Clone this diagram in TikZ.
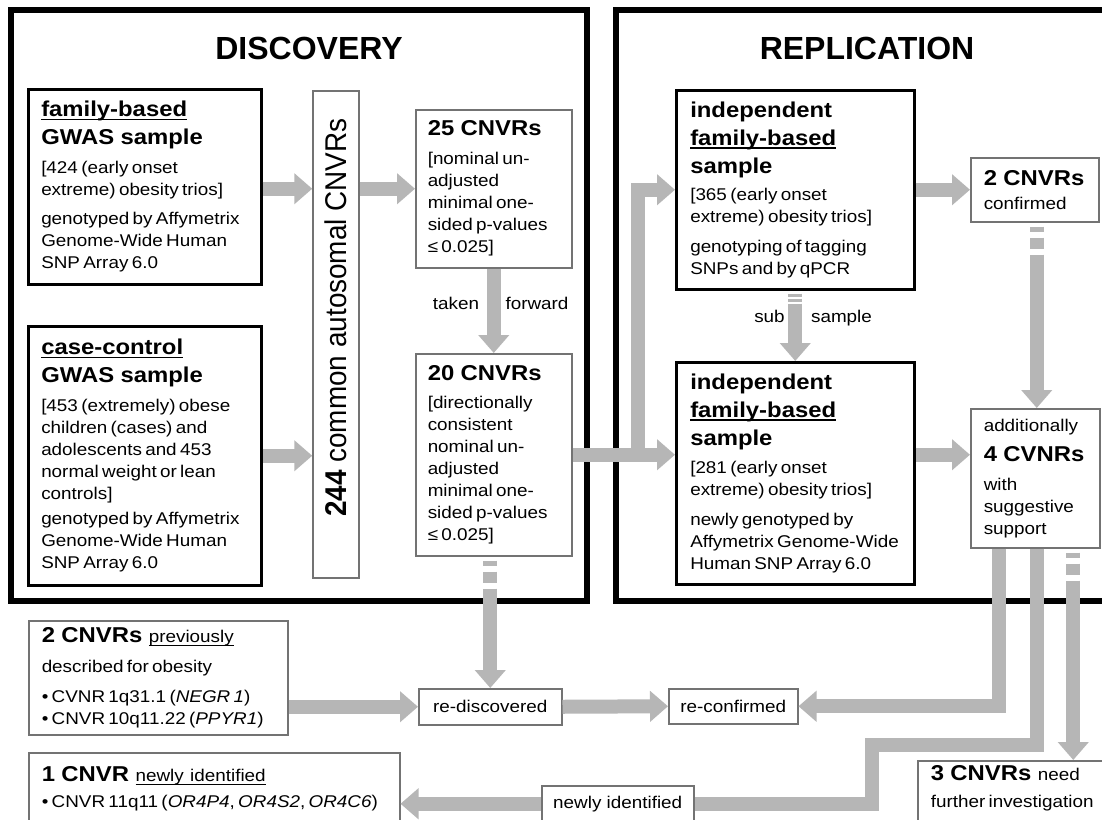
\documentclass[tikz,border=0pt]{standalone}
\usepackage{fontspec}
\setmainfont{Liberation Sans}
\newfontfamily\stf[FakeStretch=1.11]{Liberation Sans}
\newfontfamily\rotf[FakeStretch=0.93]{Liberation Sans}
\usetikzlibrary{arrows.meta}
\definecolor{agray}{RGB}{182,182,182}
\definecolor{bgray}{RGB}{115,115,115}
\newcommand\bdy{\stf\mdseries\fontsize{17}{22}\selectfont}
\newcommand\hdg{\stf\bfseries\fontsize{21.5}{28}\selectfont\spaceskip=0.3em plus 0.1em}
\newsavebox\ulbox
\newcommand\uln[1]{\leavevmode\sbox\ulbox{#1}\rlap{\rule[-3.5pt]{\wd\ulbox}{1.3pt}}\usebox\ulbox}
\tikzset{
  kbox/.style={draw=black, line width=2.5pt, fill=white, anchor=north west, inner xsep=13pt, inner ysep=0pt, align=left},
  gbox/.style={draw=bgray, line width=1.5pt, fill=white, anchor=north west, inner xsep=12pt, inner ysep=0pt, align=left},
  frame/.style={draw=black, line width=6pt},
  fat/.style={draw=agray, line width=14pt, -{Triangle[length=18pt,width=30pt]}},
  fatplain/.style={draw=agray, line width=14pt},
  dstart/.style={dash pattern=on 0pt off 4pt on 5pt off 6pt on 11pt off 6pt on 5000pt},
  dsmall/.style={dash pattern=on 0pt off 3pt on 3pt off 2pt on 3pt off 2pt on 5000pt},
  lbl/.style={font=\bdy, anchor=base, inner sep=0pt},
  ttl/.style={font=\bfseries\fontsize{32}{36}\selectfont, inner sep=0pt}
}
\begin{document}
\begin{tikzpicture}[x=1pt,y=-1pt]
\useasboundingbox (0,0) rectangle (1102,819);
\clip (0,0) rectangle (1102,819);
\fill[white] (0,0) rectangle (1102,819);

% frames
\draw[frame] (11,10) rectangle (587,601);
\draw[frame] (616,10) rectangle (1130,601);

% titles
\node[ttl] (tdisc) at (309,48.5) {DISCOVERY};
\node[ttl] (trep) at (867,48.5) {REPLICATION};

% discovery boxes
\node[kbox, minimum width=233pt, minimum height=195pt, text width=207pt] (fam) at (27,88)
 {{\hdg\uln{family-based}\\GWAS sample\par}\vspace{7pt}%
  {\bdy[424 (early onset\\extreme) obesity trios]\par}\vspace{7pt}%
  {\bdy genotyped by Affymetrix\\Genome-Wide Human\\SNP Array 6.0\par}};

\node[kbox, minimum width=233pt, minimum height=259pt, text width=207pt] (cas) at (27,325)
 {{\hdg\uln{case-control}\\GWAS sample\par}\vspace{7pt}%
  {\bdy[453 (extremely) obese\\children (cases) and\\adolescents and 453\\normal weight or lean\\controls]\par}\vspace{3pt}%
  {\bdy genotyped by Affymetrix\\Genome-Wide Human\\SNP Array 6.0\par}};

\node[draw=bgray, line width=1.5pt, fill=white, rotate=90, minimum width=487pt, minimum height=46pt, inner sep=0pt,
      font=\rotf\fontsize{30}{34}\selectfont] (b244) at (336,334.5)
 {\hspace*{34pt}\textbf{244} common autosomal CNVRs};

\node[gbox, minimum width=156pt, minimum height=158pt, text width=132pt] (b25) at (415,109)
 {{\hdg 25 CNVRs\par}\vspace{7pt}%
  {\bdy[nominal un-\\adjusted\\minimal one-\\sided p-values\\≤ 0.025]\par}};

\node[gbox, minimum width=156pt, minimum height=202pt, text width=132pt] (b20) at (415,353)
 {{\hdg 20 CNVRs\par}\vspace{6pt}%
  {\bdy[directionally\\consistent\\nominal un-\\adjusted\\minimal one-\\sided p-values\\≤ 0.025]\par}};

% replication boxes
\node[kbox, inner xsep=14pt, minimum width=238pt, minimum height=199pt, text width=210pt] (ind1) at (675,89)
 {{\hdg independent\\\uln{family-based}\\sample\par}\vspace{5pt}%
  {\bdy[365 (early onset\\extreme) obesity trios]\par}\vspace{8pt}%
  {\bdy genotyping of tagging\\SNPs and by qPCR\par}};

\node[kbox, inner xsep=14pt, minimum width=238pt, minimum height=222pt, text width=210pt] (ind2) at (675,361)
 {{\hdg independent\\\uln{family-based}\\sample\par}\vspace{6pt}%
  {\bdy[281 (early onset\\extreme) obesity trios]\par}\vspace{8pt}%
  {\bdy newly genotyped by\\\mbox{Affymetrix Genome-Wide}\\Human SNP Array 6.0\par}};

\node[gbox, inner xsep=13pt, minimum width=128pt, minimum height=64pt, text width=102pt] (c2) at (970,157)
 {{\hdg 2 CNVRs\par}\vspace{2pt}{\bdy confirmed\par}};

\node[gbox, inner xsep=13pt, minimum width=129pt, minimum height=139pt, text width=103pt] (add) at (970,408)
 {{\bdy additionally\par}\vspace{2pt}{\hdg 4 CVNRs\par}\vspace{7pt}%
  {\bdy with\\suggestive\\support\par}};

% bottom boxes
\node[gbox, inner xsep=13pt, minimum width=259pt, minimum height=114pt, text width=233pt] (prev) at (28,620)
 {{\hdg 2 CNVRs {\bdy\uln{previously}}\par}\vspace{8pt}%
  {\bdy described for obesity\par}\vspace{8pt}%
  {\bdy • CVNR 1q31.1 (\textit{NEGR 1})\\• CNVR 10q11.22 (\textit{PPYR1})\par}};

\node[gbox, minimum width=143pt, minimum height=36pt, inner xsep=0pt, align=center, font=\bdy] (redisc) at (418,688) {re-discovered};
\node[gbox, minimum width=129pt, minimum height=35pt, inner xsep=0pt, align=center, font=\bdy] (reconf) at (668,688) {re-confirmed};

\node[gbox, inner xsep=13pt, inner ysep=14pt, minimum width=371pt, text width=345pt, text depth=40pt] (one) at (28,752)
 {{\hdg 1 CNVR {\bdy\uln{newly identified}}\par}\vspace{4pt}%
  {\bdy\mbox{• CNVR 11q11 (\textit{OR4P4}, \textit{OR4S2}, \textit{OR4C6})}\par}};

\node[gbox, minimum width=152pt, minimum height=36pt, inner xsep=0pt, align=center, font=\bdy] (newly) at (541,785) {newly identified};

\node[gbox, inner xsep=13pt, inner ysep=5pt, minimum width=200pt, text width=174pt, text depth=40pt] (three) at (917,760)
 {{\hdg 3 CNVRs {\bdy need}\par}\vspace{5pt}%
  {\bdy further investigation\par}};

% labels
\node[lbl] (ltaken) at (456,309) {taken};
\node[lbl] (lfwd) at (537,309) {forward};
\node[lbl] (lsub) at (769.5,322) {sub};
\node[lbl] (lsample) at (841.5,322) {sample};

% helper coordinates
\coordinate (br) at (638,461);
\coordinate (k1) at (872,745);

% arrows
\draw[fat] (fam.east |- b25.west) -- (b244.north |- b25.west);
\draw[fat] (b244.south |- b25.west) -- (b25.west);
\draw[fat] (cas.east) -- (cas.east -| b244.north);
\draw[fat] (b25.south) -- (b20.north);
\draw[fat] (b20.east) -- (b20.east -| ind2.west);
\draw[fat] (br) |- (ind1.west);
\draw[fat] (ind1.east |- c2.west) -- (c2.west);
\draw[fat, dsmall] (ind1.south) -- (ind2.north);
\draw[fat, dstart] ([xshift=2pt]c2.south) -- ([xshift=2pt]c2.south |- add.north);
\draw[fat] (b20.east -| ind2.east) -- (b20.east -| add.west);
\draw[fat, dstart] (b20.south -| redisc.north) -- (redisc.north);
\draw[fat] (redisc.west -| prev.east) -- (redisc.west);
\draw[fat] (redisc.east) -- (reconf.west);
\draw[fat] ([xshift=-36pt]add.south) |- (reconf.east);
\draw[fatplain] ([xshift=2pt]add.south) |- (k1) |- (newly.east);
\draw[fat] (newly.west) -- (newly.west -| one.east);
\draw[fat, dstart] ([xshift=38pt]add.south) -- ([xshift=38pt]add.south |- three.north);
\end{tikzpicture}
\end{document}
